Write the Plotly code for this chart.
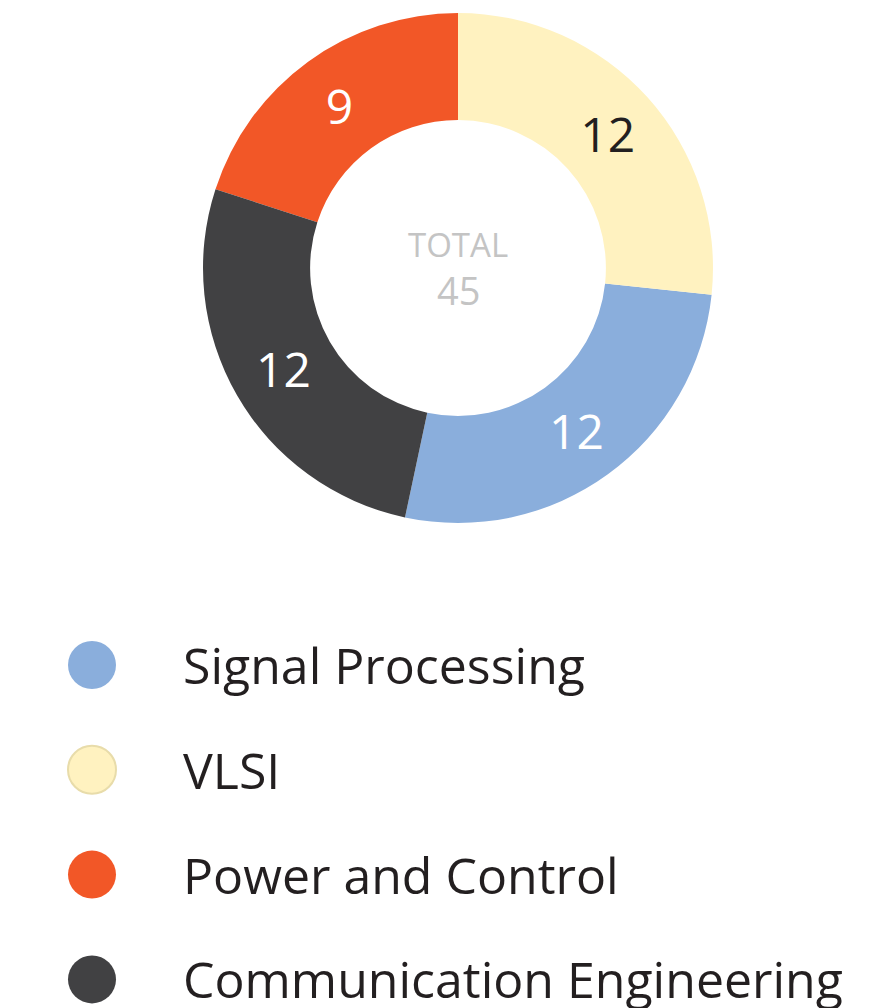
import plotly.graph_objects as go

# Data
categories = ["Signal Processing", "VLSI", "Power and Control", "Communication Engineering"]
values = [12, 12, 9, 12]
colors = ["#8aaedc", "#fff2c0", "#f25727", "#414143"]
label_colors = ["#ffffff", "#231f20", "#ffffff", "#ffffff"]
center_title = "TOTAL"

W, H = 881, 1008
FONT = "'Open Sans', sans-serif"

cx, cy, R = 458, 268, 255

fig = go.Figure()
fig.add_trace(go.Pie(
    labels=categories,
    values=values,
    sort=False,
    direction="counterclockwise",
    rotation=96,
    hole=0.58,
    marker=dict(colors=colors, line=dict(width=0)),
    textinfo="value",
    textposition="inside",
    insidetextorientation="horizontal",
    textfont=dict(family=FONT, size=48, color=label_colors),
    showlegend=False,
    hoverinfo="label+value",
    domain=dict(x=[(cx - R) / W, (cx + R) / W], y=[1 - (cy + R) / H, 1 - (cy - R) / H]),
))

total = sum(values)
fig.add_annotation(x=cx / W, y=1 - 244 / H, xref="paper", yref="paper",
                   text=center_title, showarrow=False, yanchor="middle",
                   font=dict(family=FONT, size=33, color="#c4c4c4"))
fig.add_annotation(x=cx / W, y=1 - 290 / H, xref="paper", yref="paper",
                   text=str(total), showarrow=False, yanchor="middle",
                   font=dict(family=FONT, size=38, color="#c4c4c4"))

# Custom legend
leg_y0, leg_dy = 665, 104.8
circ_x, circ_r = 92, 24
for i, (name, col) in enumerate(zip(categories, colors)):
    yc = leg_y0 + i * leg_dy
    is_light = col == "#fff2c0"
    fig.add_shape(type="circle", xref="paper", yref="paper",
                  x0=(circ_x - circ_r) / W, x1=(circ_x + circ_r) / W,
                  y0=1 - (yc + circ_r) / H, y1=1 - (yc - circ_r) / H,
                  fillcolor=col,
                  line=dict(color="#e8dcaa" if is_light else col, width=2 if is_light else 0))
    fig.add_annotation(x=181 / W, y=1 - yc / H, xref="paper", yref="paper",
                       text=name, showarrow=False, xanchor="left", yanchor="middle",
                       font=dict(family=FONT, size=50, color="#231f20"))

fig.update_layout(
    width=W, height=H,
    margin=dict(l=0, r=0, t=0, b=0),
    paper_bgcolor="white",
    plot_bgcolor="white",
)

fig.write_html("out.html", config={"displayModeBar": False},
               post_script="document.body.style.margin='0';document.body.style.overflow='hidden';")
